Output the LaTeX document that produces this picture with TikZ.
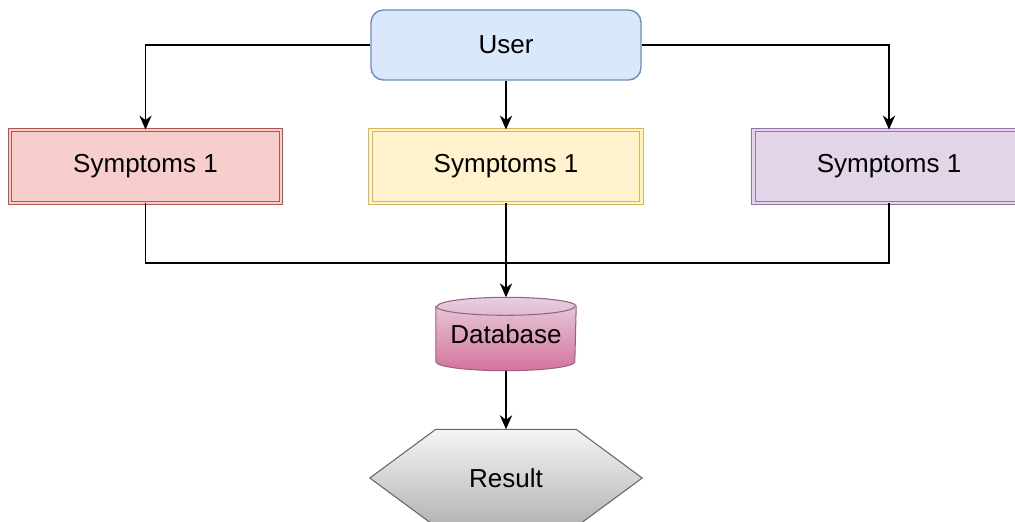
\documentclass[tikz,border=0pt]{standalone}
\usepackage{fontspec}
\setmainfont{Liberation Sans}
\usetikzlibrary{arrows.meta,calc,backgrounds}

\definecolor{userfill}{HTML}{DAE8FC}
\definecolor{userline}{HTML}{6C8EBF}
\definecolor{redfill}{HTML}{F8CECC}
\definecolor{redline}{HTML}{B85450}
\definecolor{yelfill}{HTML}{FFF2CC}
\definecolor{yelline}{HTML}{D6B656}
\definecolor{purfill}{HTML}{E1D5E7}
\definecolor{purline}{HTML}{9673A6}
\definecolor{dbtop}{HTML}{E6D0DE}
\definecolor{dbbot}{HTML}{D5739D}
\definecolor{dbline}{HTML}{996185}
\definecolor{restop}{HTML}{F5F5F5}
\definecolor{resbot}{HTML}{B3B3B3}
\definecolor{resline}{HTML}{666666}

\begin{document}
\begin{tikzpicture}[>={Stealth[length=8pt,width=7pt]},line width=0.8pt]
\tikzstyle{every node}=[font=\fontsize{14.8}{17}\selectfont]
\tikzstyle{symbox}=[rectangle,minimum width=5.42cm,minimum height=1.46cm,line width=0.5pt,double distance=1.3pt]
\useasboundingbox (0,0) rectangle (20.3,10.42);

\node[rectangle,rounded corners=0.25cm,draw=userline,fill=userfill,minimum width=5.4cm,minimum height=1.4cm](user) at (10.12,9.52) {User};
\node[symbox,draw=redline,fill=redfill,double=redfill](s1) at (2.91,7.09) {Symptoms 1};
\node[symbox,draw=yelline,fill=yelfill,double=yelfill](s2) at (10.12,7.09) {Symptoms 1};
\node[symbox,draw=purline,fill=purfill,double=purfill](s3) at (17.78,7.09) {Symptoms 1};
\node[rectangle,minimum width=2.78cm,minimum height=1.44cm](db) at (10.12,3.74) {Database};
\node[rectangle,minimum width=5.42cm,minimum height=1.92cm](res) at (10.12,0.86) {Result};
\coordinate (jn) at (10.12,5.16);

% shapes behind the texts
\begin{scope}[on background layer]
\path[draw=dbline,top color=dbtop,bottom color=dbbot,line width=0.6pt]
  ($(db.north west)+(0,-0.18)$) -- ($(db.south west)+(0,0.18)$)
  arc[start angle=180,end angle=360,x radius=1.39cm,y radius=0.18cm]
  -- ($(db.north east)+(0,-0.18)$)
  arc[start angle=0,end angle=180,x radius=1.39cm,y radius=0.18cm] -- cycle;
\draw[dbline,line width=0.6pt] ($(db.north west)+(0,-0.18)$)
  arc[start angle=180,end angle=360,x radius=1.39cm,y radius=0.18cm];
\path[draw=resline,top color=restop,bottom color=resbot,line width=0.6pt]
  (res.west) -- ($(res.north west)+(1.32,0)$) -- ($(res.north east)+(-1.32,0)$)
  -- (res.east) -- ($(res.south east)+(-1.32,0)$) -- ($(res.south west)+(1.32,0)$) -- cycle;
\end{scope}

\draw[->] (user.west) -| (s1.north);
\draw[->] (user) -- (s2);
\draw[->] (user.east) -| (s3.north);
\draw (s1.south) |- (jn);
\draw (s3.south) |- (jn);
\draw[->] (s2.south) -- (db.north);
\draw[->] (db.south) -- (res.north);
\end{tikzpicture}
\end{document}
